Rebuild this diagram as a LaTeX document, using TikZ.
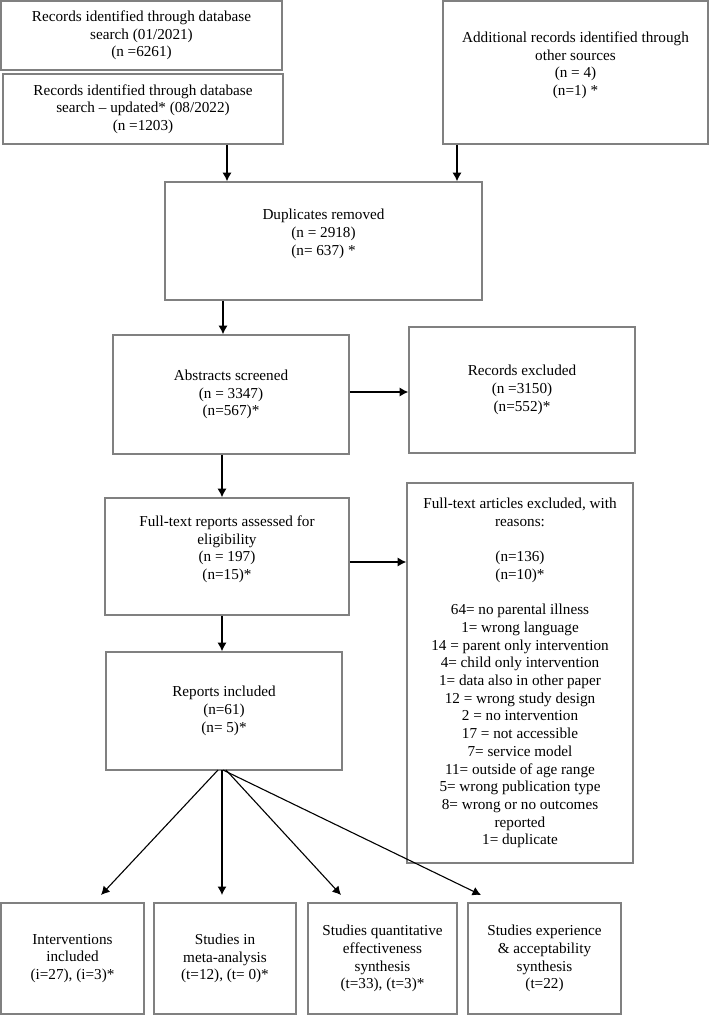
\documentclass[tikz,border=0pt]{standalone}
\usepackage{fontspec}
\setmainfont{Liberation Serif}
\usetikzlibrary{arrows.meta,calc}
\definecolor{boxgray}{RGB}{128,128,128}
\begin{document}
\begin{tikzpicture}[x=1pt,y=-1pt,
  box/.style={draw=boxgray,line width=1.6pt,inner sep=0pt,align=center,
    font=\fontsize{15.2}{17.7}\selectfont},
  arr/.style={-{Latex[length=8.5pt,width=9pt]},line width=1.1pt,black}]
\useasboundingbox (0,0) rectangle (710,1016);

% top row
\node[box,minimum width=281pt,minimum height=69pt] (b1) at (141.5,35.5)
  {Records identified through database\\search (01/2021)\\(n =6261)};
\node[box,minimum width=280pt,minimum height=70pt] (b2) at (143,109)
  {Records identified through database\\search – updated* (08/2022)\\(n =1203)};
\node[box,minimum width=265pt,minimum height=143pt] (add) at (575.5,72.5)
  {Additional records identified through\\other sources\\(n = 4)\\(n=1) *\\~};

\node[box,minimum width=317pt,minimum height=118pt] (dup) at (323.5,241)
  {Duplicates removed\\(n = 2918)\\(n= 637) *\\~};

\node[box,minimum width=236pt,minimum height=119pt] (abs) at (231,394.5)
  {Abstracts screened\\(n = 3347)\\(n=567)*};
\node[box,minimum width=226pt,minimum height=126pt] (rex) at (522,390)
  {Records excluded\\(n =3150)\\(n=552)*};

\node[box,minimum width=244pt,minimum height=117pt] (ftr) at (227,556.5)
  {Full-text reports assessed for\\eligibility\\(n = 197)\\(n=15)*\\~};
\node[box,minimum width=226pt,minimum height=380pt] (fte) at (520,673)
  {Full-text articles excluded, with\\reasons:\\~\\(n=136)\\(n=10)*\\~\\64= no parental illness\\1= wrong language\\14 = parent only intervention\\4= child only intervention\\1= data also in other paper\\12 = wrong study design\\2 = no intervention\\17 = not accessible\\7= service model\\11= outside of age range\\5= wrong publication type\\8= wrong or no outcomes\\reported\\1= duplicate};

\node[box,minimum width=236pt,minimum height=118pt] (rep) at (224,711)
  {Reports included\\(n=61)\\(n= 5)*};

% bottom row
\node[box,minimum width=143pt,minimum height=111pt] (bA) at (72.5,958.5)
  {Interventions\\included\\(i=27), (i=3)*};
\node[box,minimum width=142pt,minimum height=111pt] (bB) at (225,958.5)
  {Studies in\\meta-analysis\\(t=12), (t= 0)*};
\node[box,minimum width=149pt,minimum height=111pt] (bC) at (382.5,958.5)
  {Studies quantitative\\effectiveness\\synthesis\\(t=33), (t=3)*};
\node[box,minimum width=153pt,minimum height=111pt] (bD) at (544.5,958.5)
  {Studies experience\\\& acceptability\\synthesis\\(t=22)};

% helper coordinates
\coordinate (x227) at (227,0);
\coordinate (x457) at (457,0);
\coordinate (x223) at (223,0);
\coordinate (x222) at (222,0);
\coordinate (y392) at (0,392);
\coordinate (y562) at (0,562);
\coordinate (sA) at (218,770);
\coordinate (sB) at (222,770);
\coordinate (sC) at (226,770);
\coordinate (sD) at (223,770);
\coordinate (tA) at (101,895);
\coordinate (tB) at (222,895);
\coordinate (tC) at (341,895);
\coordinate (tD) at (481,895);

% connectors
\draw[arr] (b2.south -| x227) -- (dup.north -| x227);
\draw[arr] (add.south -| x457) -- (dup.north -| x457);
\draw[arr] (dup.south -| x223) -- (abs.north -| x223);
\draw[arr] (abs.east |- y392) -- (rex.west |- y392);
\draw[arr] (abs.south -| x222) -- (ftr.north -| x222);
\draw[arr] (ftr.east |- y562) -- (fte.west |- y562);
\draw[arr] (ftr.south -| x222) -- (rep.north -| x222);
\draw[arr] (sA) -- (tA);
\draw[arr] (sB) -- (tB);
\draw[arr] (sC) -- (tC);
\draw[arr] (sD) -- (tD);
\end{tikzpicture}
\end{document}
